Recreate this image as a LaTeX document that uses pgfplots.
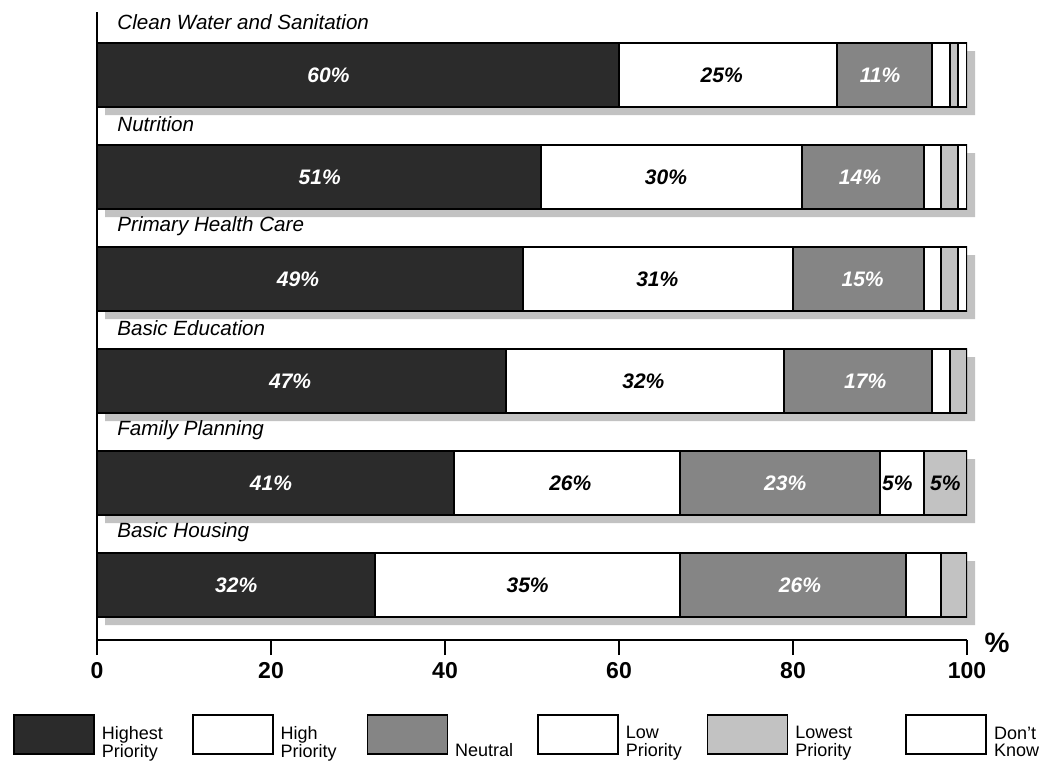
\documentclass[border=0pt]{standalone}
\usepackage{fontspec}
\setmainfont{Liberation Sans}
\usepackage{graphicx}
\usepackage{pgfplots}
\usepackage{pgfplotstable}
\pgfplotsset{compat=1.18}
\definecolor{cHighest}{gray}{0.17}
\definecolor{cNeutral}{gray}{0.52}
\definecolor{cLowest}{gray}{0.76}
\definecolor{cShadow}{gray}{0.76}

% categories bottom-up: 0 Basic Housing ... 5 Clean Water and Sanitation
\pgfplotstableread{
y hi h n lo lst dk tot
0 32 35 26 4 3 0 100
1 41 26 23 5 5 0 100
2 47 32 17 2 2 0 100
3 49 31 15 2 2 1 100
4 51 30 14 2 2 1 100
5 60 25 11 2 1 1 100
}\data

\pgfplotstableread{
x y lab
16.0 0 32\%
20.0 1 41\%
22.2 2 47\%
23.1 3 49\%
25.6 4 51\%
26.6 5 60\%
}\labHi

\pgfplotstableread{
x y lab
49.5 0 35\%
54.4 1 26\%
62.8 2 32\%
64.4 3 31\%
65.4 4 30\%
71.8 5 25\%
92.0 1 5\%
97.5 1 5\%
}\labH

\pgfplotstableread{
x y lab
80.8 0 26\%
79.1 1 23\%
88.3 2 17\%
88.0 3 15\%
87.7 4 14\%
90.0 5 11\%
}\labN

\pgfplotstableread{
x y lab
2.3 0.515 {Basic Housing}
2.3 1.515 {Family Planning}
2.3 2.515 {Basic Education}
2.3 3.515 {Primary Health Care}
2.3 4.515 {Nutrition}
2.3 5.515 {Clean Water and Sanitation}
}\cats

\newcommand{\lgd}[3]{\raisebox{-4.5pt}{\begin{tabular}{@{}l@{}}#1\\#2\end{tabular}}\hspace*{#3}}

\pgfplotsset{base/.style={scale only axis, width=435pt, height=314pt,
  xmin=0, xmax=100, ymin=-0.539, ymax=5.618, enlargelimits=false, anchor=south west}}

\begin{document}
\begin{tikzpicture}
\path[use as bounding box] (0,0) rectangle (526pt,-382pt);

% shadows
\begin{axis}[base, at={(52.5pt,-324pt)}, hide axis, xbar, bar width=32pt]
\addplot[fill=cShadow, draw=none] table[x=tot, y=y] {\data};
\end{axis}

% bars
\begin{axis}[base, at={(48.5pt,-320pt)},
  xbar stacked, bar width=32pt,
  axis x line*=bottom, axis y line*=left,
  axis line style={line width=1.1pt},
  ytick=\empty,
  xtick={0,20,40,60,80,100},
  tick align=outside, major tick length=7.5pt,
  xtick style={line width=1.1pt, black},
  /pgf/number format/assume math mode=true,
  xticklabel style={font=\bfseries\fontsize{11.5}{12}\selectfont},
  xlabel={\%},
  xlabel style={at={(axis description cs:1.0345,-0.005)}, anchor=center, font=\bfseries\fontsize{14}{14}\selectfont},
  legend columns=6,
  legend cell align=left,
  legend image code/.code={\draw[#1, line width=0.8pt] (0pt,-9.75pt) rectangle (40pt,9.75pt);},
  legend style={at={(axis description cs:-0.0966,-0.1178)}, anchor=north west,
    draw=none, fill=none, inner sep=0pt,
    font=\fontsize{9}{8.3}\selectfont,
    nodes={inner sep=1pt},
    /tikz/every odd column/.style={column sep=2.5pt},
    /tikz/every even column/.style={column sep=0pt}},
]
\addplot[fill=cHighest, draw=black, line width=1pt] table[x=hi, y=y] {\data};
\addlegendentry{\lgd{Highest}{Priority}{13.5pt}}
\addplot[fill=white, draw=black, line width=1pt] table[x=h, y=y] {\data};
\addlegendentry{\lgd{High}{Priority}{14pt}}
\addplot[fill=cNeutral, draw=black, line width=1pt] table[x=n, y=y] {\data};
\addlegendentry{\lgd{\mbox{}}{Neutral}{11pt}}
\addplot[fill=white, draw=black, line width=1pt] table[x=lo, y=y] {\data};
\addlegendentry{\lgd{Low}{Priority}{11.5pt}}
\addplot[fill=cLowest, draw=black, line width=1pt] table[x=lst, y=y] {\data};
\addlegendentry{\lgd{Lowest}{Priority}{25.5pt}}
\addplot[fill=white, draw=black, line width=1pt] table[x=dk, y=y] {\data};
\addlegendentry{\lgd{Don't}{Know}{0pt}}
\end{axis}

% labels
\begin{axis}[base, at={(48.5pt,-320pt)}, hide axis, clip=false]
\addplot[draw=none, mark=none, nodes near coords, nodes near coords align=center,
  point meta=explicit symbolic,
  every node near coord/.append style={text=white, font=\bfseries\itshape\fontsize{10.5}{12}\selectfont}]
  table[x=x, y=y, meta=lab] {\labHi};
\addplot[draw=none, mark=none, nodes near coords, nodes near coords align=center,
  point meta=explicit symbolic,
  every node near coord/.append style={text=black, font=\bfseries\itshape\fontsize{10.5}{12}\selectfont}]
  table[x=x, y=y, meta=lab] {\labH};
\addplot[draw=none, mark=none, nodes near coords, nodes near coords align=center,
  point meta=explicit symbolic,
  every node near coord/.append style={text=white, font=\bfseries\itshape\fontsize{10.5}{12}\selectfont}]
  table[x=x, y=y, meta=lab] {\labN};
\addplot[draw=none, mark=none, nodes near coords, nodes near coords align=west,
  point meta=explicit symbolic,
  every node near coord/.append style={text=black, inner sep=0pt, font=\itshape\fontsize{10.3}{12}\selectfont}]
  table[x=x, y=y, meta=lab] {\cats};
\end{axis}
\end{tikzpicture}
\end{document}
